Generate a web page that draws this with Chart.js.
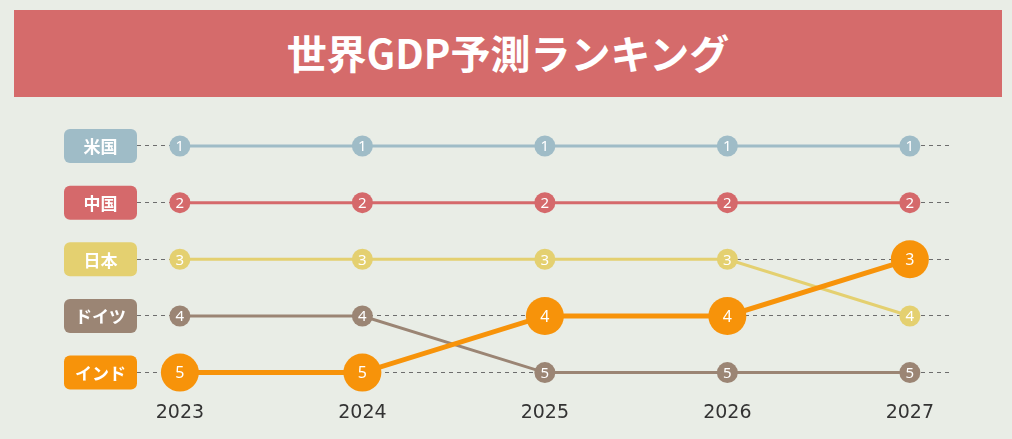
<!DOCTYPE html>
<html>
<head>
<meta charset="utf-8">
<script src="https://cdn.jsdelivr.net/npm/chart.js@4.4.1/dist/chart.umd.min.js"></script>
<style>
  html, body { margin: 0; padding: 0; background: #e9ede6; }
  #wrap { position: relative; width: 1012px; height: 439px; }
  #banner {
    position: absolute; left: 14px; top: 10px; width: 988px; height: 87px;
    background: #d56b6b; color: #fff; text-align: center;
    font: bold 40px "Noto Sans CJK JP", sans-serif; line-height: 85px;
  }
  canvas { position: absolute; left: 0; top: 0; }
</style>
</head>
<body>
<div id="wrap">
  <div id="banner">世界GDP予測ランキング</div>
  <canvas id="myChart" width="1012" height="439"></canvas>
</div>
<script>
// rankings per year (1 = top)
const years = [2023, 2024, 2025, 2026, 2027];
const countries = ['米国', '中国', '日本', 'ドイツ', 'インド'];
const usRank = [1, 1, 1, 1, 1];
const chinaRank = [2, 2, 2, 2, 2];
const japanRank = [3, 3, 3, 3, 4];
const germanyRank = [4, 4, 5, 5, 5];
const indiaRank = [5, 5, 4, 4, 3];
const rankTicks = [1, 2, 3, 4, 5];

const colors = ['#9fbcc7', '#d5696b', '#e4d070', '#9b8574', '#f7930a'];
const allRanks = [usRank, chinaRank, japanRank, germanyRank, indiaRank];

const datasets = countries.map((name, i) => {
  const isIndia = i === 4;
  return {
    label: name,
    data: years.map((y, j) => ({ x: y, y: allRanks[i][j] })),
    borderColor: colors[i],
    backgroundColor: colors[i],
    borderWidth: isIndia ? 5 : 3,
    pointRadius: isIndia ? 19 : 10.5,
    pointBorderWidth: 0,
    pointHoverRadius: isIndia ? 19 : 10.5,
    order: isIndia ? 0 : 1,
    clip: false,
  };
});

// rank numbers inside each point
const pointLabels = {
  id: 'pointLabels',
  afterDatasetsDraw(chart) {
    const ctx = chart.ctx;
    ctx.save();
    ctx.fillStyle = '#fff';
    ctx.textAlign = 'center';
    ctx.textBaseline = 'middle';
    chart.data.datasets.forEach((ds, i) => {
      const meta = chart.getDatasetMeta(i);
      ctx.font = (i === 4 ? '16px' : '15px') + ' "Noto Sans", sans-serif';
      meta.data.forEach((pt, j) => {
        ctx.fillText(String(ds.data[j].y), pt.x, pt.y + 1);
      });
    });
    ctx.restore();
  }
};

// country boxes on the left
const countryBoxes = {
  id: 'countryBoxes',
  afterDraw(chart) {
    const ctx = chart.ctx;
    const yScale = chart.scales.y;
    const left = 64, w = 73, h = 34, r = 6;
    ctx.save();
    countries.forEach((name, i) => {
      const y = yScale.getPixelForValue(allRanks[i][0]);
      ctx.fillStyle = colors[i];
      ctx.beginPath();
      ctx.roundRect(left, y - h / 2, w, h, r);
      ctx.fill();
      ctx.fillStyle = '#fff';
      ctx.font = 'bold 17px "Noto Sans CJK JP", sans-serif';
      ctx.textAlign = 'center';
      ctx.textBaseline = 'middle';
      ctx.fillText(name, left + w / 2, y + 1);
    });
    ctx.restore();
  }
};

new Chart(document.getElementById('myChart').getContext('2d'), {
  type: 'line',
  data: { datasets },
  options: {
    responsive: false,
    animation: false,
    events: [],
    layout: { padding: { left: 137, right: 62, top: 129, bottom: 0 } },
    plugins: { legend: { display: false }, tooltip: { enabled: false } },
    scales: {
      x: {
        type: 'linear',
        min: 2022.765,
        max: 2027.22,
        afterBuildTicks: (axis) => { axis.ticks = years.map(v => ({ value: v })); },
        grid: { display: false, drawTicks: false },
        border: { display: false },
        ticks: {
          padding: 15,
          color: '#333',
          font: { family: '"DejaVu Sans", sans-serif', size: 19 },
          callback: (v) => String(v),
        },
      },
      y: {
        type: 'linear',
        reverse: true,
        min: 0.7,
        max: 5.24,
        afterBuildTicks: (axis) => { axis.ticks = rankTicks.map(v => ({ value: v })); },
        ticks: { display: false },
        grid: { color: '#6d6d6d', lineWidth: 1, drawTicks: false },
        border: { display: false, dash: [4, 4] },
      },
    },
  },
  plugins: [pointLabels, countryBoxes],
});
</script>
</body>
</html>
